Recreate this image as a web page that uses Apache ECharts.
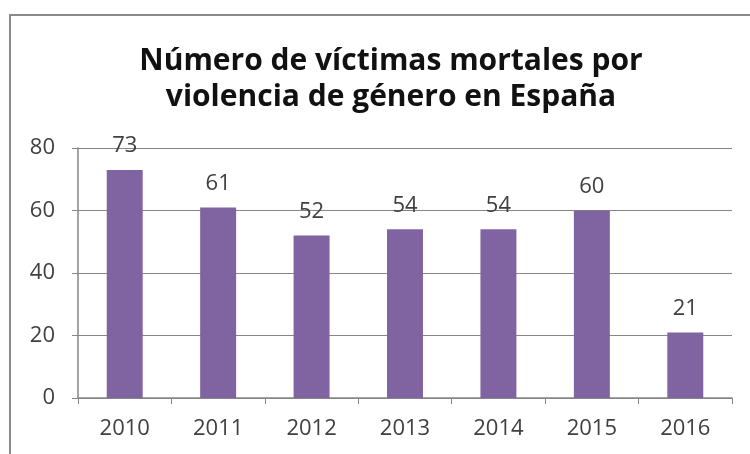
<!DOCTYPE html>
<html><head><meta charset="utf-8">
<script src="https://cdn.jsdelivr.net/npm/echarts@6/dist/echarts.min.js"></script>
<style>html,body{margin:0;padding:0;background:#fff}#c{width:750px;height:454px}</style>
</head><body><div id="c"></div>
<script>
var categories = ['2010','2011','2012','2013','2014','2015','2016'];
var victims = [73, 61, 52, 54, 54, 60, 21];
var yTicks = [0, 20, 40, 60, 80];
var titleText = 'Número de víctimas mortales por\nviolencia de género en España';

var chart = echarts.init(document.getElementById('c'));
chart.setOption({
  animation: false,
  graphic: [{type:'rect', shape:{x:10,y:15,width:760,height:460}, style:{fill:'none', stroke:'#8a8a8a', lineWidth:2}}],
  title: {
    text: titleText, left: 386, top: 38, textAlign: 'center',
    textStyle: {fontFamily:'Open Sans', fontWeight:'bold', fontSize:30, color:'#111', lineHeight:36}
  },
  grid: {left: 78, right: 18, top: 148, bottom: 56},
  xAxis: {
    type: 'category', data: categories,
    axisLine: {lineStyle: {color:'#868686', width:1.5}},
    axisTick: {show:true, length:6, lineStyle:{color:'#868686'}},
    axisLabel: {fontFamily:'Open Sans', fontSize:22, color:'#404040', margin:20}
  },
  yAxis: {
    type: 'value', min: yTicks[0], max: yTicks[yTicks.length-1], interval: 20,
    axisLine: {show:true, lineStyle:{color:'#868686', width:1.5}},
    axisTick: {show:true, length:6, lineStyle:{color:'#868686'}},
    splitLine: {lineStyle:{color:'#868686', width:1.2}},
    axisLabel: {fontFamily:'Open Sans', fontSize:22, color:'#404040', margin:23}
  },
  series: [{
    type: 'bar', data: victims, barWidth: '38.5%',
    itemStyle: {color:'#8064A2'},
    label: {show:true, position:'top', distance:13, fontFamily:'Open Sans', fontSize:22, color:'#404040'}
  }]
});
</script></body></html>
